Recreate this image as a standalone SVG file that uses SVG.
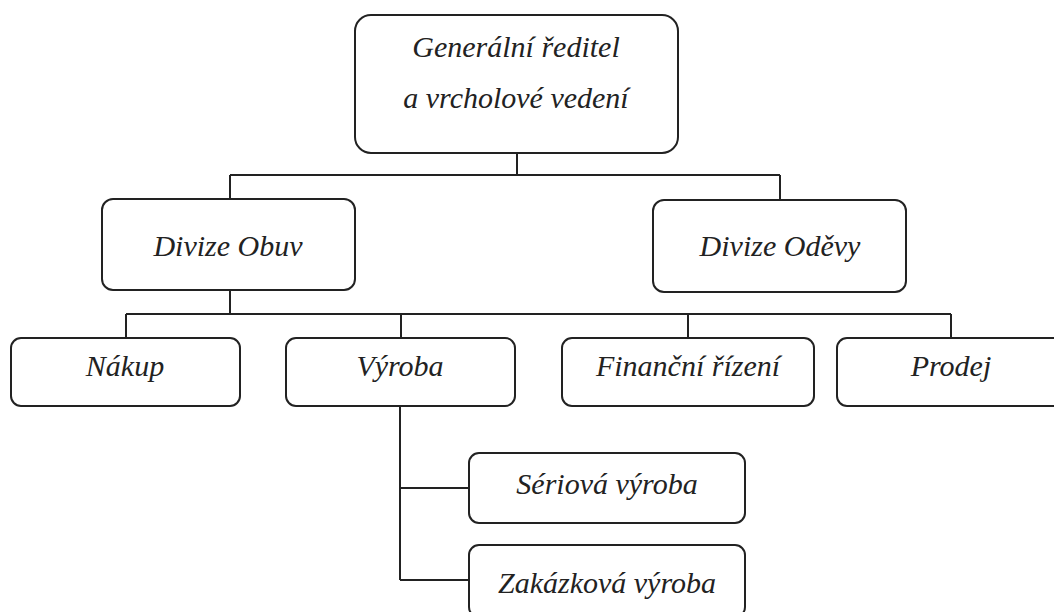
<svg xmlns="http://www.w3.org/2000/svg" width="1054" height="612" viewBox="0 0 1054 612">
<style>
.box{fill:#fff;stroke:#222;stroke-width:2}
.lbl{font-family:"Liberation Serif","Times New Roman",serif;font-style:italic;font-size:30px;fill:#222;text-anchor:middle}
.con{fill:none;stroke:#222;stroke-width:2}
</style>
<rect width="1054" height="612" fill="#fff"/>
<g id="connectors" class="con">
<path d="M517 153V175M230 175H780M230 175V199M780 175V200"/>
<path d="M230 290V314M126 314H951M126 314V338M401 314V338M688 314V338M951 314V338"/>
<path d="M400 406V580M400 488H469M400 580H469"/>
</g>
<g id="n-gr"><rect class="box" x="355" y="15" width="323" height="138" rx="16"/><text class="lbl" x="516" y="57">Generální ředitel</text><text class="lbl" x="516" y="108">a vrcholové vedení</text></g>
<g id="n-obuv"><rect class="box" x="102" y="199" width="253" height="91" rx="11"/><text class="lbl" x="228" y="256">Divize Obuv</text></g>
<g id="n-odevy"><rect class="box" x="653" y="200" width="253" height="92" rx="11"/><text class="lbl" x="780" y="256">Divize Oděvy</text></g>
<g id="n-nakup"><rect class="box" x="11" y="338" width="229" height="68" rx="10"/><text class="lbl" x="125" y="376">Nákup</text></g>
<g id="n-vyroba"><rect class="box" x="286" y="338" width="229" height="68" rx="10"/><text class="lbl" x="400" y="376">Výroba</text></g>
<g id="n-financni"><rect class="box" x="562" y="338" width="252" height="68" rx="10"/><text class="lbl" x="688" y="376">Finanční řízení</text></g>
<g id="n-prodej"><rect class="box" x="837" y="338" width="229" height="68" rx="10"/><text class="lbl" x="951" y="376">Prodej</text></g>
<g id="n-seriova"><rect class="box" x="469" y="453" width="276" height="70" rx="10"/><text class="lbl" x="607" y="494">Sériová výroba</text></g>
<g id="n-zakazkova"><rect class="box" x="469" y="545" width="276" height="72" rx="10"/><text class="lbl" x="607" y="593">Zakázková výroba</text></g>
</svg>
